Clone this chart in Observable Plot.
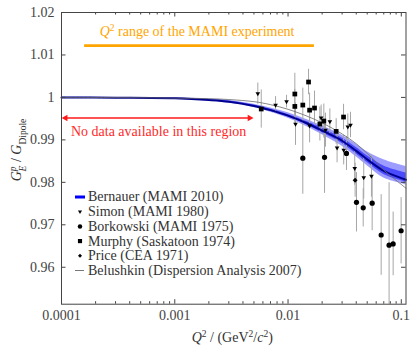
<!DOCTYPE html>
<html><head><meta charset="utf-8">
<script src="https://cdn.jsdelivr.net/npm/d3@7"></script>
<script src="https://cdn.jsdelivr.net/npm/@observablehq/plot@0.6"></script>
<style>
body{margin:0;background:#fff;}
#chart{width:410px;height:347px;}
#chart svg text{font-family:"Liberation Serif","DejaVu Serif",serif !important;font-size:14px;}
</style></head><body><div id="chart"></div>
<script>
// ---- Bernauer (MAMI 2010) fit with bands ----
const fitQ2 = [1e-4, 3e-4, 1e-3, 2e-3, 3e-3, 5e-3, 7e-3, 0.01, 0.015, 0.02, 0.03, 0.04, 0.05, 0.07, 0.1, 0.11];
const fitG  = [1.0, 0.99995, 0.9998, 0.9994, 0.9990, 0.9980, 0.9970, 0.9957, 0.9938, 0.9922, 0.9898, 0.9874, 0.9854, 0.9827, 0.9810, 0.9806];
const fitOuterLo = [0.99998, 0.99993, 0.9997, 0.9992, 0.9987, 0.9976, 0.9965, 0.9951, 0.9930, 0.9912, 0.9885, 0.9860, 0.9839, 0.9810, 0.9797, 0.9793];
const fitOuterHi = [1.00002, 0.99997, 0.9999, 0.9996, 0.9993, 0.9984, 0.9975, 0.9964, 0.9947, 0.9933, 0.9911, 0.9890, 0.9872, 0.9853, 0.9840, 0.9837];
const fitInnerLo = [0.99999, 0.99994, 0.99975, 0.9993, 0.99885, 0.9978, 0.99675, 0.9954, 0.9934, 0.99165, 0.98915, 0.9867, 0.98465, 0.98185, 0.98035, 0.97995];
const fitInnerHi = [1.00001, 0.99996, 0.99985, 0.9995, 0.99915, 0.9982, 0.99725, 0.9960, 0.9942, 0.99275, 0.99045, 0.9882, 0.98625, 0.98385, 0.9825, 0.9822];

// ---- Belushkin (Dispersion Analysis 2007) ----
const belQ2 = [1e-4, 3e-4, 1e-3, 2e-3, 3e-3, 5e-3, 7e-3, 0.01, 0.015, 0.02, 0.03, 0.04, 0.05, 0.06, 0.07, 0.085, 0.1, 0.11];
const belG  = [1.0, 0.99996, 0.99985, 0.9997, 0.9995, 0.9990, 0.9983, 0.9972, 0.9955, 0.9940, 0.9914, 0.9891, 0.9868, 0.9848, 0.9829, 0.9810, 0.9795, 0.9786];

// ---- Data sets ----
const simonQ2  = [0.00541, 0.00776, 0.0097, 0.01164, 0.0155, 0.0196, 0.0214, 0.0234, 0.0271, 0.0310, 0.0337, 0.0356, 0.0388, 0.0466, 0.0545];
const simonG   = [1.0009, 0.9982, 0.9990, 0.9937, 0.9933, 0.9952, 0.9923, 0.9943, 0.9881, 0.9876, 0.9931, 0.9935, 0.9833, 0.9811, 0.9815];
const simonErr = [0.0025, 0.002, 0.0015, 0.005, 0.004, 0.003, 0.004, 0.003, 0.0035, 0.0035, 0.003, 0.003, 0.004, 0.005, 0.005];

const borkQ2  = [0.0135, 0.0210, 0.0328, 0.0402, 0.0461, 0.0553, 0.0664, 0.078, 0.0847, 0.0996];
const borkG   = [0.9857, 0.9859, 0.9868, 0.9753, 0.9740, 0.9751, 0.9676, 0.9652, 0.9655, 0.9686];
const borkErr = [0.0085, 0.0085, 0.004, 0.007, 0.0045, 0.0065, 0.0095, 0.0147, 0.0075, 0.0078];

const murphyQ2  = [0.0058, 0.01148, 0.01148, 0.0135, 0.01517, 0.0155, 0.01713, 0.0191, 0.0207, 0.0266, 0.0309];
const murphyG   = [0.99727, 1.0008, 0.99788, 0.9982, 1.00363, 0.9970, 0.9975, 0.99373, 0.99444, 0.9920, 0.99538];
const murphyErr = [0.0045, 0.0049, 0.004, 0.004, 0.003, 0.004, 0.004, 0.004, 0.004, 0.003, 0.003];

const priceQ2  = [0.0391];
const priceG   = [0.9805];
const priceErr = [0.004];

// ---- Annotations (data units) ----
const mamiRangeQ2 = [0.00016, 0.0171];
const mamiRangeG = 1.0122;
const noDataQ2 = [0.0001, 0.00497];
const noDataG = 0.99515;
const noDataLabelQ2 = 0.00072;
const noDataLabelG = 0.9919;
const mamiLabelQ2 = 0.00159;
const mamiLabelG = 1.0143;

// ---- Axis ticks ----
const xMajor = [0.0001, 0.001, 0.01, 0.1];
const xMinorMult = [2, 3, 4, 5, 6, 7, 8, 9];
const yTicks = [0.96, 0.97, 0.98, 0.99, 1.0, 1.01, 1.02];

const legendLabels = ["Bernauer (MAMI 2010)", "Simon (MAMI 1980)", "Borkowski (MAMI 1975)", "Murphy (Saskatoon 1974)", "Price (CEA 1971)", "Belushkin (Dispersion Analysis 2007)"];

// build tables
const fit = fitQ2.map((q, i) => ({q, g: fitG[i], olo: fitOuterLo[i], ohi: fitOuterHi[i], ilo: fitInnerLo[i], ihi: fitInnerHi[i]}));
const bel = belQ2.map((q, i) => ({q, g: belG[i]}));
const mk = (Q, G, E) => Q.map((q, i) => ({q, g: G[i], e: E[i]}));
const simon = mk(simonQ2, simonG, simonErr);
const bork = mk(borkQ2, borkG, borkErr);
const murphy = mk(murphyQ2, murphyG, murphyErr);
const price = mk(priceQ2, priceG, priceErr);
const allPts = [...simon, ...bork, ...murphy, ...price];
const xMinor = [];
for (const m of xMajor.slice(0, 3)) for (const k of xMinorMult) xMinor.push(+(m * k).toPrecision(3));

const W = 410, H = 347, mT = 12, mB = 43.3, mL = 61, mR = 4.5;
const plotH = H - mT - mB, plotW = W - mL - mR;
const majorLen = 4.5, minorLen = 2.5;

const plot = Plot.plot({
  width: W, height: H,
  marginTop: mT, marginBottom: mB, marginLeft: mL, marginRight: mR,
  x: {type: "log", domain: [1e-4, 0.11]},
  y: {domain: [0.9513, 1.02]},
  style: "font-size:14px;color:#333;background:#fff;",
  marks: [
    Plot.areaY(fit, {x: "q", y1: "olo", y2: "ohi", fill: "#9d9dff", curve: "catmull-rom"}),
    Plot.areaY(fit, {x: "q", y1: "ilo", y2: "ihi", fill: "#4a4aff", curve: "catmull-rom"}),
    Plot.ruleX(allPts, {x: "q", y1: d => d.g - d.e, y2: d => d.g + d.e, stroke: "#a6a6a6", strokeWidth: 1, clip: true}),
    Plot.line(fit, {x: "q", y: "g", stroke: "#000090", strokeWidth: 2, curve: "catmull-rom"}),
    Plot.line(bel, {x: "q", y: "g", stroke: "#6a6a6a", strokeWidth: 0.8, curve: "catmull-rom"}),
    Plot.dot(simon, {x: "q", y: "g", symbol: "triangle2", rotate: 180, r: 2.2, fill: "#000"}),
    Plot.dot(bork, {x: "q", y: "g", symbol: "circle", r: 2.6, fill: "#000"}),
    Plot.dot(murphy, {x: "q", y: "g", symbol: "square2", r: 3, fill: "#000"}),
    Plot.dot(price, {x: "q", y: "g", symbol: "diamond2", r: 2.2, fill: "#000"}),
    // MAMI range
    Plot.ruleY([mamiRangeG], {x1: mamiRangeQ2[0], x2: mamiRangeQ2[1], y: d => d, stroke: "#ffa500", strokeWidth: 2.8}),
    // no-data arrow
    Plot.ruleY([noDataG], {x1: noDataQ2[0], x2: noDataQ2[1], y: d => d, stroke: "#ff1a1a", strokeWidth: 1.5, insetLeft: 4, insetRight: 4}),
    Plot.dot([noDataQ2[0]], {x: d => d, y: noDataG, symbol: "triangle2", rotate: -90, r: 3.2, fill: "#ff1a1a", dx: 4}),
    Plot.dot([noDataQ2[1]], {x: d => d, y: noDataG, symbol: "triangle2", rotate: 90, r: 3.2, fill: "#ff1a1a", dx: -4}),
    Plot.text(["No data available in this region"], {x: noDataLabelQ2, y: noDataLabelG, text: d => d, fill: "#ff2a2a", fontSize: 14}),
    // ticks (inward, all four sides)
    Plot.tickX(xMajor, {x: d => d, insetTop: plotH - majorLen, stroke: "#444"}),
    Plot.tickX(xMajor, {x: d => d, insetBottom: plotH - majorLen, stroke: "#444"}),
    Plot.tickX(xMinor, {x: d => d, insetTop: plotH - minorLen, stroke: "#444"}),
    Plot.tickX(xMinor, {x: d => d, insetBottom: plotH - minorLen, stroke: "#444"}),
    Plot.tickY(yTicks, {y: d => d, insetRight: plotW - majorLen, stroke: "#444"}),
    Plot.tickY(yTicks, {y: d => d, insetLeft: plotW - majorLen, stroke: "#444"}),
    Plot.axisX({ticks: xMajor, tickSize: 0, tickPadding: 6, tickFormat: d => String(d), label: null, fontSize: 14, fill: "#444"}),
    Plot.axisY({ticks: yTicks, tickSize: 0, tickPadding: 7, tickFormat: d => String(+d.toFixed(2)), label: null, fontSize: 14, fill: "#444"}),
    Plot.frame({stroke: "#444", strokeWidth: 1})
  ]
});

document.getElementById("chart").appendChild(plot);

const svg = d3.select(plot);
const sx = plot.scale("x"), sy = plot.scale("y");

// MAMI range label
const ml = svg.append("text")
  .attr("x", sx.apply(mamiLabelQ2)).attr("y", sy.apply(mamiLabelG))
  .attr("text-anchor", "middle").attr("fill", "#ffa500");
ml.append("tspan").attr("font-style", "italic").text("Q");
ml.append("tspan").attr("baseline-shift", "super").attr("font-size", "9.5px").text("2");
ml.append("tspan").text(" range of the MAMI experiment");

// x axis label
const xl = svg.append("text").attr("x", mL + plotW / 2 - 1).attr("y", 342)
  .attr("text-anchor", "middle").attr("fill", "#333");
xl.append("tspan").attr("font-style", "italic").text("Q");
xl.append("tspan").attr("baseline-shift", "super").attr("font-size", "9.5px").text("2");
xl.append("tspan").text(" / (GeV");
xl.append("tspan").attr("baseline-shift", "super").attr("font-size", "9.5px").text("2");
xl.append("tspan").text("/");
xl.append("tspan").attr("font-style", "italic").text("c");
xl.append("tspan").attr("baseline-shift", "super").attr("font-size", "9.5px").text("2");
xl.append("tspan").text(")");

// y axis label
const yl = svg.append("text").attr("transform", "translate(21,150) rotate(-90)")
  .attr("text-anchor", "middle").attr("fill", "#333");
yl.append("tspan").attr("font-style", "italic").text("G");
yl.append("tspan").attr("baseline-shift", "super").attr("font-size", "9.5px").attr("font-style", "italic").text("p");
yl.append("tspan").attr("baseline-shift", "sub").attr("font-size", "9.5px").attr("font-style", "italic").attr("dx", -5).text("E");
yl.append("tspan").text(" / ");
yl.append("tspan").attr("font-style", "italic").text("G");
yl.append("tspan").attr("baseline-shift", "sub").attr("font-size", "9.5px").text("Dipole");

// legend
const lg = svg.append("g").attr("text-anchor", "start");
const lx = 80, ly0 = 197, ldy = 14.7;
legendLabels.forEach((t, i) => {
  const y = ly0 + i * ldy;
  lg.append("text").attr("x", lx + 8).attr("y", y).attr("dy", "0.32em").attr("fill", "#333").attr("text-anchor", "start").text(t);
  const sym = [null, d3.symbolTriangle2, d3.symbolCircle, d3.symbolSquare2, d3.symbolDiamond2, null][i];
  if (i === 0) lg.append("line").attr("x1", lx - 5).attr("x2", lx + 5).attr("y1", y).attr("y2", y).attr("stroke", "#0000ff").attr("stroke-width", 3);
  else if (i === 5) lg.append("line").attr("x1", lx - 5).attr("x2", lx + 4).attr("y1", y).attr("y2", y).attr("stroke", "#555").attr("stroke-width", 0.8);
  else {
    const size = [0, 12, 16, 22, 10][i];
    lg.append("path").attr("d", d3.symbol(sym, size)()).attr("fill", "#000")
      .attr("transform", `translate(${lx},${y})` + (i === 1 ? " rotate(180)" : ""));
  }
});
</script>
</body></html>
